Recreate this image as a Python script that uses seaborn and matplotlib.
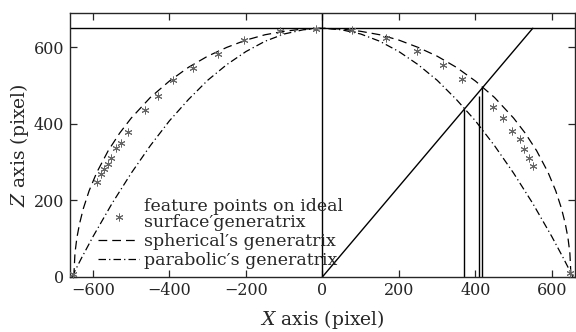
import matplotlib
matplotlib.use("Agg")
import matplotlib.pyplot as plt
import seaborn as sns

# spherical generatrix (dashed)
sph_x = [-650, -647, -642, -635, -625, -610, -590, -560, -530, -500, -450, -400, -350,
         -300, -250, -200, -150, -100, -50, 0, 50, 100, 150, 200, 250, 300, 350, 400,
         450, 500, 530, 560, 590, 610, 625, 635, 642, 647, 650]
sph_z = [0, 62, 102, 139, 179, 225, 273, 330, 376, 415, 469, 512, 548,
         577, 600, 619, 633, 642, 648, 650, 648, 642, 633, 619, 600, 577, 548, 512,
         469, 415, 376, 330, 273, 225, 179, 139, 102, 62, 0]

# parabolic generatrix (dash-dot)
para_x = [-655, -630, -600, -550, -500, -450, -400, -350, -300, -250, -200, -150, -100,
          -50, 0, 50, 100, 150, 200, 250, 300, 350, 400, 450, 500, 550, 600, 630, 655]
para_z = [0, 49, 105, 192, 271, 343, 408, 464, 514, 555, 589, 616, 635,
          646, 650, 646, 635, 616, 589, 555, 514, 464, 408, 343, 271, 192, 105, 49, 0]

# feature points on the ideal surface generatrix
pts_x = [-652, -589, -579, -570, -561, -552, -539, -526, -509, -463, -431, -390, -339,
         -274, -204, -112, -18, 77, 166, 247, 315, 365, 445, 471, 496, 517, 528, 541,
         551, 648]
pts_z = [8, 247, 268, 282, 295, 310, 336, 350, 380, 437, 473, 514, 547,
         582, 619, 643, 647, 645, 624, 590, 555, 518, 444, 416, 382, 361, 334, 311,
         290, 10]

# construction lines
diag_x = [0, 550]
diag_z = [0, 650]
top_z = 650
seg_x = [371, 410, 418]
seg_top = [440, 472, 497]

sns.set_style("ticks")
plt.rcParams["font.family"] = ["DejaVu Serif"]
plt.rcParams["mathtext.fontset"] = "dejavuserif"
TICK_FS = 11.5
LEG_FS = 12.5
LAB_FS = 13.5

fig = plt.figure(figsize=(5.76, 3.32), dpi=100)
ax = fig.add_axes([0.1215, 0.166, 0.8765, 0.795])

ax.axhline(top_z, color="black", lw=1.0)
ax.axvline(0, color="black", lw=1.0)
sns.lineplot(x=diag_x, y=diag_z, ax=ax, color="black", lw=1.0, sort=False, estimator=None)
ax.vlines(seg_x, 0, seg_top, color="black", lw=1.0)

sns.lineplot(x=sph_x, y=sph_z, ax=ax, color="black", lw=0.9, sort=False,
             estimator=None, linestyle=(0, (7, 4)))
sns.lineplot(x=para_x, y=para_z, ax=ax, color="black", lw=0.9, sort=False,
             estimator=None, linestyle=(0, (6, 2.5, 1, 2.5)))
sns.scatterplot(x=pts_x, y=pts_z, ax=ax, marker=(6, 2, 0), s=26, color="#666666",
                linewidth=0.7, clip_on=False, zorder=5)

h_pts = ax.collections[-1]
h_sph = ax.lines[-2]
h_para = ax.lines[-1]
leg = ax.legend([h_pts, h_sph, h_para],
                ["feature points on ideal\nsurface\u2032generatrix",
                 "spherical\u2032s generatrix",
                 "parabolic\u2032s generatrix"],
                loc="lower left", bbox_to_anchor=(0.055, 0.03), frameon=False,
                fontsize=LEG_FS, handlelength=2.4, handletextpad=0.25, labelspacing=0.1,
                borderpad=0, borderaxespad=0, scatterpoints=1)
for t in leg.get_texts():
    t.set_linespacing(0.95)

ax.set_xlim(-660, 660)
ax.set_ylim(0, 690)
ax.set_xticks([-600, -400, -200, 0, 200, 400, 600])
ax.set_yticks([0, 200, 400, 600])
ax.tick_params(direction="in", top=True, right=True, length=5, width=0.9,
               labelsize=TICK_FS, pad=4)
for s in ax.spines.values():
    s.set_linewidth(1.0)
ax.set_xlabel("$X$ axis (pixel)", fontsize=LAB_FS, labelpad=6)
ax.set_ylabel("$Z$ axis (pixel)", fontsize=LAB_FS, labelpad=2)

fig.savefig("out.png", dpi=100)
